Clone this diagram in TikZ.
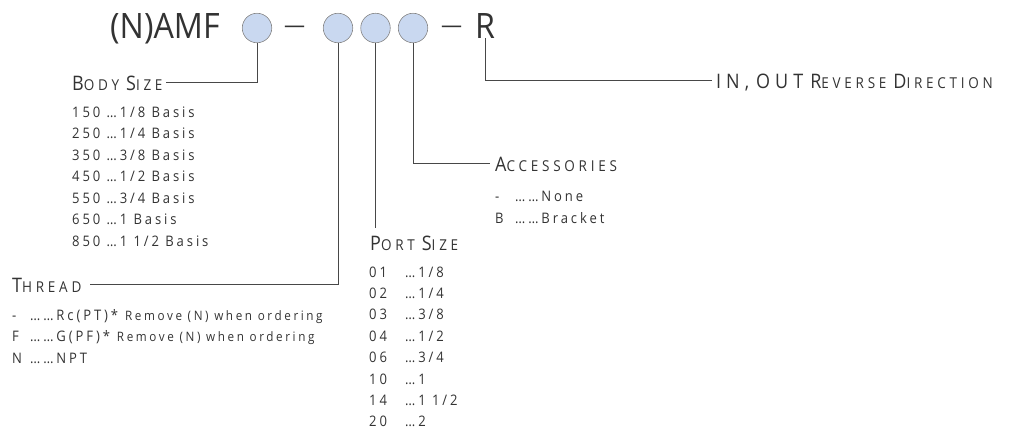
\documentclass[tikz,border=0pt]{standalone}
\usepackage{fontspec}
\setmainfont{Open Sans}
\newfontfamily\ttlfont[FakeStretch=0.92]{Open Sans}
\newfontfamily\dashfont{Open Sans}
\newfontfamily\lstfont[LetterSpace=20,FakeStretch=0.9]{Open Sans}
\newfontfamily\notefont[LetterSpace=20,FakeStretch=0.9]{Open Sans}
\newfontfamily\hdgfont[LetterSpace=25,FakeStretch=0.9]{Open Sans}
\definecolor{ink}{HTML}{333333}
\definecolor{bub}{HTML}{C9D8F0}
\definecolor{bubline}{HTML}{858585}
\newcommand\hBig[1]{{\fontsize{20}{20}\selectfont #1}}
\newcommand\hSml[1]{{\fontsize{15}{15}\selectfont #1}}
\newcommand\hGap{\hspace{7pt}}
\newcommand\smallnote[1]{{\notefont\fontsize{13}{13}\selectfont #1}}
\begin{document}
\begin{tikzpicture}[x=1pt,y=-1pt,
  bubble/.style={circle, draw=bubline, fill=bub, minimum size=29.5pt, inner sep=0pt, line width=0.6pt},
  titletext/.style={anchor=base west, inner sep=0pt, text=ink, font=\ttlfont\fontsize{35}{35}\selectfont},
  dashtext/.style={anchor=base west, inner sep=0pt, text=ink, font=\dashfont\fontsize{21}{21}\selectfont},
  head/.style={anchor=base west, inner sep=0pt, text depth=0pt, text=ink, font=\hdgfont},
  item/.style={anchor=base west, inner sep=0pt, text=ink, font=\lstfont\fontsize{14.5}{14.5}\selectfont},
  lead/.style={draw=ink!90, line width=0.9pt},
]
\useasboundingbox (0,0) rectangle (1015,429);

% code line
\node[titletext] (title) at (110,38) {(N)AMF};
\node[bubble] (c1) at (257,28) {};
\node[dashtext] (d1) at (284,32) {—};
\node[bubble] (c2) at (338,28) {};
\node[bubble] (c3) at (375.5,28) {};
\node[bubble] (c4) at (413,28) {};
\node[dashtext] (d2) at (441,32) {—};
\node[titletext] (R) at (475,38) {R};

% headings
\node[head] (body) at (72,90) {\hBig{B}\hSml{ODY}\hGap\hBig{S}\hSml{IZE}};
\node[head] (thread) at (12,292) {\hBig{T}\hSml{HREAD}};
\node[head] (port) at (370,250) {\hBig{P}\hSml{ORT}\hGap\hBig{S}\hSml{IZE}};
\node[head] (acc) at (495,171) {\hBig{A}\hSml{CCESSORIES}};
\node[head] (inout) at (716,88) {\hBig{IN,\hGap OUT\hGap R}\hSml{EVERSE}\hGap\hBig{D}\hSml{IRECTION}};

% leaders
\draw[lead] (c1.south) |- ([xshift=3pt]body.east);
\draw[lead] (c2.south) |- ([xshift=8pt]thread.east);
\draw[lead] (c3.south) -- ([yshift=7pt]c3.south |- port.north);
\draw[lead] (c4.south) |- ([xshift=-5pt]acc.west);
\draw[lead] (R.south) |- ([xshift=-4pt]inout.west);

% body size list
\node[item] (b1) at (72,117) {150 …1/8 Basis};
\node[item] (b2) at (72,138.5) {250 …1/4 Basis};
\node[item] (b3) at (72,160) {350 …3/8 Basis};
\node[item] (b4) at (72,181.5) {450 …1/2 Basis};
\node[item] (b5) at (72,203) {550 …3/4 Basis};
\node[item] (b6) at (72,224.5) {650 …1 Basis};
\node[item] (b7) at (72,246) {850 …1 1/2 Basis};

% thread list
\node[item] (t1) at (12,320) {\makebox[18pt][l]{-}……Rc(PT)*\hspace{7pt}\smallnote{Remove (N) when ordering}};
\node[item] (t2) at (12,341.5) {\makebox[18pt][l]{F}……G(PF)*\hspace{7pt}\smallnote{Remove (N) when ordering}};
\node[item] (t3) at (12,363) {\makebox[18pt][l]{N}……NPT};

% port size list
\node[item] (p1) at (369,277) {\makebox[36pt][l]{01}…1/8};
\node[item] (p2) at (369,298.4) {\makebox[36pt][l]{02}…1/4};
\node[item] (p3) at (369,319.8) {\makebox[36pt][l]{03}…3/8};
\node[item] (p4) at (369,341.2) {\makebox[36pt][l]{04}…1/2};
\node[item] (p5) at (369,362.6) {\makebox[36pt][l]{06}…3/4};
\node[item] (p6) at (369,384) {\makebox[36pt][l]{10}…1};
\node[item] (p7) at (369,405.4) {\makebox[36pt][l]{14}…1 1/2};
\node[item] (p8) at (369,426) {\makebox[36pt][l]{20}…2};

% accessories list
\node[item] (a1) at (495,201) {\makebox[20pt][l]{-}……None};
\node[item] (a2) at (495,223) {\makebox[20pt][l]{B}……Bracket};
\end{tikzpicture}
\end{document}
